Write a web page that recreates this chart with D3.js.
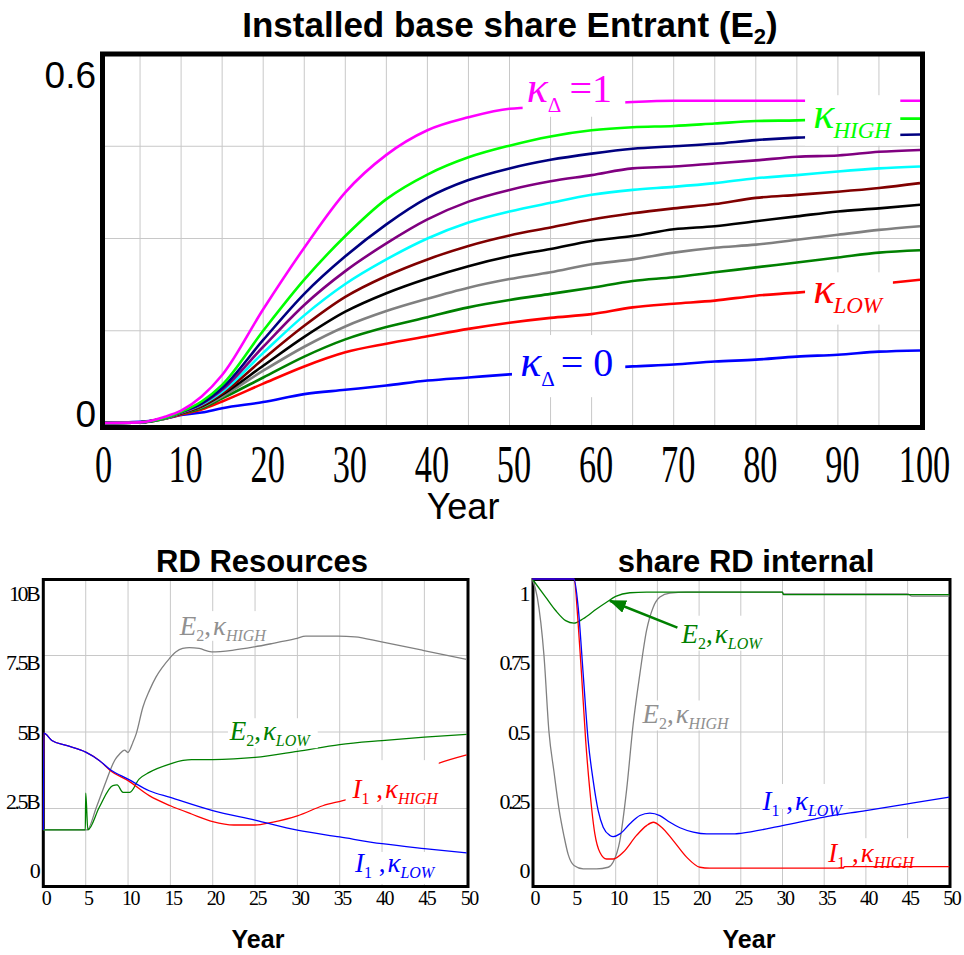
<!DOCTYPE html>
<html>
<head>
<meta charset="utf-8">
<script src="https://cdn.jsdelivr.net/npm/d3@7"></script>
<style>
  body { margin: 0; background: #fff; }
  text { white-space: pre; }
</style>
</head>
<body>
<script>
// ---------- data: installed base share of the entrant (top chart) ----------
var topYears = [0, 5, 8, 10, 12.5, 15, 20, 25, 30, 35, 40, 45, 50, 55, 60, 65, 70, 75, 80, 85, 90, 95, 100];
var shareMagenta = [0, 0.001, 0.010, 0.020, 0.043, 0.078, 0.185, 0.285, 0.375, 0.436, 0.476, 0.497, 0.511, 0.514, 0.518, 0.522, 0.524, 0.524, 0.524, 0.524, 0.524, 0.524, 0.524];
var shareLime    = [0, 0.001, 0.008, 0.018, 0.035, 0.062, 0.150, 0.233, 0.304, 0.364, 0.404, 0.432, 0.451, 0.466, 0.476, 0.481, 0.483, 0.487, 0.491, 0.492, 0.494, 0.495, 0.495];
var shareNavy    = [0, 0.001, 0.008, 0.018, 0.032, 0.057, 0.135, 0.210, 0.271, 0.323, 0.366, 0.395, 0.414, 0.428, 0.438, 0.446, 0.450, 0.454, 0.460, 0.464, 0.466, 0.468, 0.469];
var sharePurple  = [0, 0.001, 0.008, 0.017, 0.031, 0.054, 0.124, 0.192, 0.247, 0.292, 0.331, 0.360, 0.379, 0.393, 0.403, 0.414, 0.417, 0.422, 0.427, 0.433, 0.435, 0.441, 0.444];
var shareCyan    = [0, 0.001, 0.008, 0.017, 0.030, 0.051, 0.114, 0.175, 0.226, 0.266, 0.300, 0.326, 0.344, 0.358, 0.371, 0.379, 0.384, 0.390, 0.398, 0.403, 0.409, 0.414, 0.417];
var shareMaroon  = [0, 0.001, 0.008, 0.016, 0.028, 0.048, 0.104, 0.158, 0.205, 0.239, 0.266, 0.288, 0.305, 0.318, 0.331, 0.341, 0.349, 0.356, 0.366, 0.371, 0.376, 0.382, 0.390];
var shareBlack   = [0, 0.001, 0.008, 0.016, 0.027, 0.046, 0.093, 0.140, 0.181, 0.211, 0.235, 0.255, 0.271, 0.283, 0.296, 0.304, 0.315, 0.320, 0.328, 0.336, 0.344, 0.349, 0.355];
var shareGray    = [0, 0.001, 0.007, 0.016, 0.026, 0.043, 0.085, 0.124, 0.157, 0.182, 0.202, 0.220, 0.234, 0.245, 0.258, 0.266, 0.277, 0.285, 0.290, 0.298, 0.306, 0.314, 0.320];
var shareGreen   = [0, 0.001, 0.007, 0.015, 0.024, 0.040, 0.074, 0.108, 0.136, 0.156, 0.172, 0.188, 0.200, 0.210, 0.220, 0.231, 0.237, 0.245, 0.253, 0.261, 0.269, 0.277, 0.281];
var shareRed     = [0, 0.001, 0.007, 0.014, 0.022, 0.035, 0.064, 0.092, 0.115, 0.129, 0.141, 0.153, 0.163, 0.171, 0.177, 0.188, 0.194, 0.199, 0.207, 0.212, 0.218, 0.226, 0.233];
var shareBlue    = [0, 0.002, 0.007, 0.013, 0.017, 0.024, 0.034, 0.047, 0.054, 0.061, 0.069, 0.074, 0.079, 0.083, 0.088, 0.092, 0.095, 0.100, 0.103, 0.108, 0.111, 0.116, 0.118];
var topYTicks = [0, 0.6];
var topXTicks = [0, 10, 20, 30, 40, 50, 60, 70, 80, 90, 100];

// ---------- data: RD resources (billions) ----------
var rdHighE2Years = [0, 5.16, 6.26, 7.43, 8.41, 9.0, 9.59, 9.98, 10.57, 10.96, 11.75, 12.53, 13.31, 14.1, 14.88, 15.67, 16.45, 17.24, 18.4, 19.86, 22.3, 24.9, 27, 29.8, 31, 34.8, 36.8, 39.8, 44.8, 50];
var rdHighE2      = [1.8, 1.8, 2.54, 3.41, 4.07, 4.28, 4.41, 4.33, 4.66, 4.94, 5.81, 6.36, 6.8, 7.13, 7.4, 7.62, 7.73, 7.76, 7.73, 7.62, 7.67, 7.78, 7.89, 8.05, 8.13, 8.13, 8.11, 7.95, 7.67, 7.37];
var rdLowE2Years  = [0, 4.95, 5.0, 5.25, 6.6, 8.2, 8.7, 9.4, 10.2, 11.3, 12.5, 15, 16.5, 17.5, 20, 22.5, 25, 30, 35, 40, 45, 50];
var rdLowE2       = [1.8, 1.8, 3.0, 1.8, 2.54, 3.25, 3.27, 3.03, 3.03, 3.46, 3.68, 3.96, 4.07, 4.1, 4.1, 4.12, 4.17, 4.37, 4.59, 4.72, 4.83, 4.92];
var rdHighI1Years = [0, 0.05, 1, 2.7, 5, 6.6, 8, 10, 12.5, 15, 17.5, 20, 22.5, 25, 27, 30, 33, 36, 40, 45, 46.5, 50];
var rdHighI1      = [1.8, 4.96, 4.72, 4.56, 4.34, 4.07, 3.72, 3.41, 2.92, 2.59, 2.32, 2.07, 1.96, 1.96, 2.05, 2.26, 2.59, 2.81, 3.3, 3.8, 3.96, 4.25];
var rdLowI1Years  = [0, 0.05, 1, 2.7, 5, 6.6, 8, 10, 12.5, 15, 20, 25, 30, 35, 40, 45, 50];
var rdLowI1       = [1.8, 4.96, 4.72, 4.56, 4.34, 4.07, 3.75, 3.46, 3.08, 2.86, 2.43, 2.12, 1.79, 1.57, 1.35, 1.19, 1.05];
var rdYTicks = [0, 2.5, 5, 7.5, 10];
var rdYLabels = ["0", "2.5B", "5B", "7.5B", "10B"];

// ---------- data: share of RD internal ----------
var shHighE2Years = [0, 0.6, 1.4, 2.0, 2.6, 3.2, 3.8, 4.3, 5.0, 6.1, 7.7, 9.1, 9.7, 10.5, 11.3, 12.1, 12.9, 13.7, 14.5, 15.3, 16.5, 18.5, 30, 30.1, 45, 45.5, 50];
var shHighE2      = [1.0, 0.94, 0.75, 0.5, 0.37, 0.249, 0.16, 0.1, 0.064, 0.053, 0.053, 0.058, 0.075, 0.145, 0.309, 0.527, 0.69, 0.832, 0.908, 0.941, 0.954, 0.957, 0.957, 0.951, 0.951, 0.944, 0.944];
var shLowE2Years  = [0, 1.6, 2.8, 4.0, 5.0, 6.1, 7.7, 8.9, 10.0, 11.7, 13.7, 30, 30.1, 50];
var shLowE2       = [1.0, 0.941, 0.897, 0.864, 0.856, 0.87, 0.902, 0.924, 0.943, 0.955, 0.957, 0.957, 0.949, 0.949];
var shHighI1Years = [0, 5.0, 5.5, 5.9, 6.4, 6.9, 7.5, 8.1, 8.9, 9.7, 10.9, 12.5, 13.7, 14.5, 15.5, 16.9, 18.5, 20.1, 21.3, 37.3, 37.4, 50];
var shHighI1      = [1.0, 1.0, 0.853, 0.69, 0.472, 0.309, 0.167, 0.107, 0.085, 0.085, 0.107, 0.162, 0.194, 0.205, 0.189, 0.145, 0.091, 0.058, 0.055, 0.055, 0.06, 0.06];
var shLowI1Years  = [0, 5.0, 5.5, 6.1, 6.7, 7.3, 7.9, 8.5, 9.3, 9.7, 10.5, 11.7, 12.9, 14.1, 15.3, 16.5, 17.7, 19.3, 20.9, 24.3, 25, 30, 35, 40, 45, 50];
var shLowI1       = [1.0, 1.0, 0.908, 0.69, 0.472, 0.341, 0.243, 0.189, 0.162, 0.158, 0.167, 0.2, 0.227, 0.235, 0.227, 0.205, 0.187, 0.173, 0.167, 0.167, 0.169, 0.194, 0.222, 0.243, 0.265, 0.287];
var shYTicks = [0, 0.25, 0.5, 0.75, 1];
var shYLabels = ["0", "0.25", "0.5", "0.75", "1"];
var bottomXTicks = [0, 5, 10, 15, 20, 25, 30, 35, 40, 45, 50];

var serif = "'Liberation Serif','Times New Roman',serif",
    sans = "'Liberation Sans',Arial,sans-serif",
    gridColor = "#c8c8c8";

var svg = d3.select("body").append("svg")
  .attr("width", 964)
  .attr("height", 955);

// write a label made of several runs (italic letters, subscripts)
function mathText(g, x, y, color, parts) {
  var t = g.append("text").attr("x", x).attr("y", y)
    .attr("fill", color).style("font-family", serif);
  parts.forEach(function(p) {
    t.append("tspan").text(p.t)
      .style("font-size", p.s + "px")
      .style("font-style", p.i ? "italic" : "normal")
      .attr("dx", p.dx || 0)
      .attr("dy", p.dy || 0);
  });
  return t;
}

// ====================== top chart ======================
var xTop = d3.scaleLinear().domain([0, 100]).range([99, 920]);
var yTop = d3.scaleLinear().domain([0, 0.6]).range([423, 54]);
var topG = svg.append("g");

topG.append("clipPath").attr("id", "clipTop").append("rect")
  .attr("x", 102.5).attr("y", 54).attr("width", 820).attr("height", 373.5);

topG.selectAll(".vgrid").data(d3.range(5, 100, 5)).enter().append("line")
  .attr("x1", function(d) { return xTop(d); }).attr("x2", function(d) { return xTop(d); })
  .attr("y1", 54).attr("y2", 427.5)
  .style("stroke", gridColor).style("stroke-width", 1);
topG.selectAll(".hgrid").data([0.15, 0.3, 0.45]).enter().append("line")
  .attr("x1", 102.5).attr("x2", 922.5)
  .attr("y1", function(d) { return yTop(d); }).attr("y2", function(d) { return yTop(d); })
  .style("stroke", gridColor).style("stroke-width", 1);

var topSeries = [
  {values: shareBlue, color: "#0000ff"},
  {values: shareRed, color: "#ff0000"},
  {values: shareGreen, color: "#008000"},
  {values: shareGray, color: "#808080"},
  {values: shareBlack, color: "#000000"},
  {values: shareMaroon, color: "#800000"},
  {values: shareCyan, color: "#00ffff"},
  {values: sharePurple, color: "#800080"},
  {values: shareNavy, color: "#000080"},
  {values: shareLime, color: "#00ff00"},
  {values: shareMagenta, color: "#ff00ff"}
];
var topLine = d3.line()
  .x(function(d, i) { return xTop(topYears[i]); })
  .y(function(d) { return yTop(d); })
  .curve(d3.curveMonotoneX);
topG.append("g").attr("clip-path", "url(#clipTop)")
  .selectAll("path").data(topSeries).enter().append("path")
  .attr("d", function(s) { return topLine(s.values); })
  .style("fill", "none")
  .style("stroke", function(s) { return s.color; })
  .style("stroke-width", 2.6);

// white boxes behind the curve labels
var topBoxes = [[51.6, 64.1, 0.498, 0.598], [50.3, 64.1, 0.042, 0.143], [86, 97.6, 0.451, 0.533], [86, 96.7, 0.160, 0.245]];
topG.selectAll(".box").data(topBoxes).enter().append("rect")
  .attr("x", function(b) { return xTop(b[0]); })
  .attr("width", function(b) { return xTop(b[1]) - xTop(b[0]); })
  .attr("y", function(b) { return yTop(b[3]); })
  .attr("height", function(b) { return yTop(b[2]) - yTop(b[3]); })
  .attr("fill", "#fff");

mathText(topG, xTop(52.1), yTop(0.522), "#ff00ff", [
  {t: "κ", s: 44, i: true}, {t: "Δ", s: 21, dy: 10, dx: 0}, {t: "=1", s: 40, dy: -10, dx: 8}]);
mathText(topG, xTop(51.3), yTop(0.077), "#0000ff", [
  {t: "κ", s: 44, i: true}, {t: "Δ", s: 21, dy: 10, dx: 0}, {t: "= 0", s: 40, dy: -10, dx: 6}]);
mathText(topG, xTop(87), yTop(0.48), "#00ff00", [{t: "κ", s: 44, i: true}, {t: "HIGH", s: 23, i: true, dy: 10, dx: -1}]);
mathText(topG, xTop(87), yTop(0.195), "#ff0000", [{t: "κ", s: 44, i: true}, {t: "LOW", s: 23, i: true, dy: 10, dx: -1}]);

topG.append("rect")
  .attr("x", 102.5).attr("y", 54).attr("width", 820).attr("height", 373.5)
  .style("fill", "none").style("stroke", "#000").style("stroke-width", 5);

// tick labels
var topXAxis = topG.append("g").attr("transform", "translate(4,482)")
  .call(d3.axisBottom(xTop).tickValues(topXTicks).tickSize(0).tickPadding(0).tickFormat(d3.format("d")));
topXAxis.select(".domain").remove();
topXAxis.selectAll("text").attr("y", 0).attr("dy", null)
  .attr("transform", "scale(0.66,1)")
  .attr("fill", "#000")
  .style("font-family", serif).style("font-size", "52px");

topG.selectAll(".ylab").data(topYTicks).enter().append("text")
  .attr("x", 96)
  .attr("y", function(d) { return yTop(d) + 4 + 30 * d / 0.6; })
  .attr("text-anchor", "end")
  .style("font-family", sans).style("font-size", "37px")
  .text(function(d) { return d3.format("")(d); });

var title = topG.append("text").attr("x", 510).attr("y", 37).attr("text-anchor", "middle")
  .style("font-family", sans).style("font-size", "35px").style("font-weight", "bold");
title.append("tspan").text("Installed base share Entrant (E");
title.append("tspan").text("2").style("font-size", "22px").attr("dy", 7);
title.append("tspan").text(")").attr("dy", -7);

topG.append("text").attr("x", 463).attr("y", 519).attr("text-anchor", "middle")
  .style("font-family", sans).style("font-size", "36px").text("Year");

// ====================== bottom panels ======================
function drawPanel(o) {
  var g = svg.append("g");
  var x = d3.scaleLinear().domain([0, 50]).range(o.xRange);
  var y = d3.scaleLinear().domain([0, o.yMax]).range([885, 579]);
  var left = o.frame[0], right = o.frame[1];

  g.selectAll(".vg").data(d3.range(5, 50, 5)).enter().append("line")
    .attr("x1", function(d) { return x(d); }).attr("x2", function(d) { return x(d); })
    .attr("y1", 579.5).attr("y2", 886.5)
    .style("stroke", gridColor).style("stroke-width", 1);
  g.selectAll(".hg").data(o.yTicks.slice(1, -1)).enter().append("line")
    .attr("x1", left).attr("x2", right)
    .attr("y1", function(d) { return y(d); }).attr("y2", function(d) { return y(d); })
    .style("stroke", gridColor).style("stroke-width", 1);

  g.append("rect")
    .attr("x", left).attr("y", 579.5).attr("width", right - left).attr("height", 307)
    .style("fill", "none").style("stroke", "#000").style("stroke-width", 3);

  var line = d3.line().curve(d3.curveMonotoneX);
  g.append("g")
    .selectAll("path").data(o.series).enter().append("path")
    .attr("d", function(s) {
      return line(s.values.map(function(v, i) { return [x(s.years[i]), y(v)]; }));
    })
    .style("fill", "none")
    .style("stroke", function(s) { return s.color; })
    .style("stroke-width", 1.3);

  g.selectAll(".box").data(o.boxes).enter().append("rect")
    .attr("x", function(b) { return x(b[0]); })
    .attr("width", function(b) { return x(b[1]) - x(b[0]); })
    .attr("y", function(b) { return y(b[3]); })
    .attr("height", function(b) { return y(b[2]) - y(b[3]); })
    .attr("fill", "#fff");

  o.labels.forEach(function(l) {
    var first = l.who == "E" ? [{t: "E", s: 27, i: true}, {t: "2", s: 16, dy: 6}, {t: ",", s: 27, dy: -6}]
                             : [{t: "I", s: 27, i: true}, {t: "1", s: 16, dy: 6}, {t: " ,", s: 27, dy: -6}];
    mathText(g, x(l.x), y(l.y), l.color, first.concat([
      {t: "κ", s: 27, i: true, dx: 2},
      {t: l.sub, s: 16, i: true, dy: 6}
    ]));
  });

  if (o.arrow) {
    g.append("defs").append("marker").attr("id", "head")
      .attr("markerUnits", "userSpaceOnUse")
      .attr("markerWidth", 17).attr("markerHeight", 13)
      .attr("refX", 16).attr("refY", 6.5).attr("orient", "auto")
      .append("path").attr("d", "M0,0L17,6.5L0,13Z").attr("fill", o.arrow.color);
    g.append("line")
      .attr("x1", x(o.arrow.from[0])).attr("y1", y(o.arrow.from[1]))
      .attr("x2", x(o.arrow.to[0])).attr("y2", y(o.arrow.to[1]))
      .style("stroke", o.arrow.color).style("stroke-width", 2.6)
      .attr("marker-end", "url(#head)");
  }

  var ax = g.append("g").attr("transform", "translate(2,905)")
    .call(d3.axisBottom(x).tickValues(bottomXTicks).tickSize(0).tickPadding(0).tickFormat(d3.format("d")));
  ax.select(".domain").remove();
  ax.selectAll("text").attr("y", 0).attr("dy", null).attr("fill", "#000")
    .style("font-family", serif).style("font-size", "20px").style("letter-spacing", "-1.5px");

  g.selectAll(".yl").data(o.yTicks).enter().append("text")
    .attr("x", left - 5)
    .attr("y", function(d) { return y(d) - 7 + 29 * d / o.yMax; })
    .attr("text-anchor", "end")
    .style("font-family", serif).style("font-size", "22px").style("letter-spacing", "-2.5px")
    .text(function(d, i) { return o.yLabels[i]; });

  g.append("text").attr("x", o.titleX).attr("y", 572).attr("text-anchor", "middle")
    .style("font-family", sans).style("font-size", "31px").style("font-weight", "bold")
    .text(o.title);
  g.append("text").attr("x", o.yearX).attr("y", 948).attr("text-anchor", "middle")
    .style("font-family", sans).style("font-size", "25px").style("font-weight", "bold")
    .text("Year");
}

drawPanel({
  title: "RD Resources", titleX: 262, yearX: 258,
  xRange: [43.4, 466.7], frame: [43.3, 468], yMax: 10,
  yTicks: rdYTicks, yLabels: rdYLabels,
  series: [
    {years: rdHighE2Years, values: rdHighE2, color: "#808080"},
    {years: rdLowE2Years, values: rdLowE2, color: "#008000"},
    {years: rdHighI1Years, values: rdHighI1, color: "#ff0000"},
    {years: rdLowI1Years, values: rdLowI1, color: "#0000ff"}
  ],
  boxes: [[15.8, 27, 7.98, 8.95], [21.8, 32.4, 4.47, 5.45], [35.7, 46.7, 2.61, 4.08], [36.2, 46.3, 0.03, 1.08]],
  labels: [
    {who: "E", sub: "HIGH", x: 16.1, y: 8.16, color: "#909090"},
    {who: "E", sub: "LOW", x: 22, y: 4.73, color: "#008000"},
    {who: "I", sub: "HIGH", x: 36.5, y: 2.84, color: "#ff0000"},
    {who: "I", sub: "LOW", x: 36.8, y: 0.42, color: "#0000ff"}
  ]
});

drawPanel({
  title: "share RD internal", titleX: 746, yearX: 749,
  xRange: [532.3, 949.3], frame: [533, 950], yMax: 1,
  yTicks: shYTicks, yLabels: shYLabels,
  series: [
    {years: shHighE2Years, values: shHighE2, color: "#808080"},
    {years: shLowE2Years, values: shLowE2, color: "#008000"},
    {years: shHighI1Years, values: shHighI1, color: "#ff0000"},
    {years: shLowI1Years, values: shLowI1, color: "#0000ff"}
  ],
  boxes: [[17.6, 28.5, 0.766, 0.88], [13.0, 24.2, 0.505, 0.603], [27.3, 37.9, 0.25, 0.33], [35.1, 46.3, 0.068, 0.153]],
  labels: [
    {who: "E", sub: "LOW", x: 17.9, y: 0.792, color: "#008000"},
    {who: "E", sub: "HIGH", x: 13.2, y: 0.531, color: "#909090"},
    {who: "I", sub: "LOW", x: 27.6, y: 0.245, color: "#0000ff"},
    {who: "I", sub: "HIGH", x: 35.5, y: 0.075, color: "#ff0000"}
  ],
  arrow: {from: [17.4, 0.841], to: [9.3, 0.929], color: "#008000"}
});
</script>
</body>
</html>
